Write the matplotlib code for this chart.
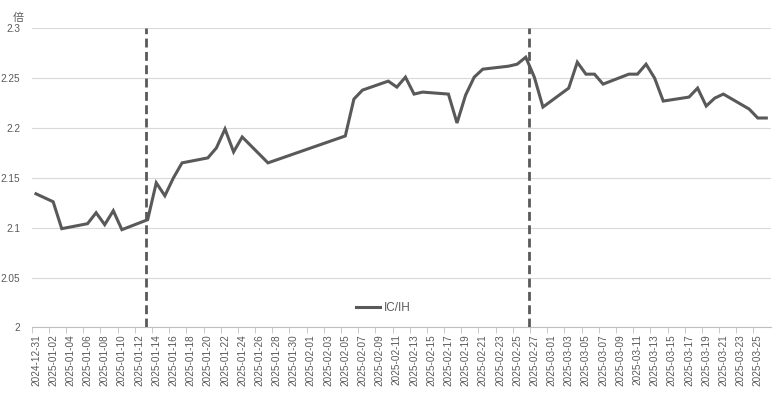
import matplotlib
matplotlib.use('agg')
import matplotlib.pyplot as plt
import pandas as pd

plt.rcParams['font.family'] = ['Liberation Sans', 'Noto Sans CJK SC', 'DejaVu Sans']

# trading days and IC/IH ratio
fechas = ['2024-12-31', '2025-01-02', '2025-01-03', '2025-01-06', '2025-01-07', '2025-01-08',
          '2025-01-09', '2025-01-10', '2025-01-13', '2025-01-14', '2025-01-15', '2025-01-16',
          '2025-01-17', '2025-01-20', '2025-01-21', '2025-01-22', '2025-01-23', '2025-01-24',
          '2025-01-27', '2025-02-05', '2025-02-06', '2025-02-07', '2025-02-10', '2025-02-11',
          '2025-02-12', '2025-02-13', '2025-02-14', '2025-02-17', '2025-02-18', '2025-02-19',
          '2025-02-20', '2025-02-21', '2025-02-24', '2025-02-25', '2025-02-26', '2025-02-27',
          '2025-02-28', '2025-03-03', '2025-03-04', '2025-03-05', '2025-03-06', '2025-03-07',
          '2025-03-10', '2025-03-11', '2025-03-12', '2025-03-13', '2025-03-14', '2025-03-17',
          '2025-03-18', '2025-03-19', '2025-03-20', '2025-03-21', '2025-03-24', '2025-03-25',
          '2025-03-26']
ratio = [2.134, 2.126, 2.099, 2.104, 2.115, 2.103,
         2.117, 2.098, 2.108, 2.145, 2.132, 2.150,
         2.165, 2.170, 2.180, 2.199, 2.176, 2.191,
         2.165, 2.192, 2.229, 2.238, 2.247, 2.241,
         2.251, 2.234, 2.236, 2.234, 2.205, 2.233,
         2.251, 2.259, 2.262, 2.264, 2.271, 2.251,
         2.221, 2.240, 2.266, 2.254, 2.254, 2.244,
         2.254, 2.254, 2.264, 2.250, 2.227, 2.231,
         2.240, 2.222, 2.230, 2.234, 2.219, 2.210,
         2.210]
lineas_marca = ['2025-01-12 18:00', '2025-02-26 08:00']

fechas = pd.to_datetime(fechas)
gris = '#595959'

fig = plt.figure(figsize=(7.8, 3.93), dpi=100)
ax = fig.add_axes([0.0406, 0.167, 0.9474, 0.761])

ax.plot(fechas, ratio, color=gris, linewidth=2.2, label='IC/IH', solid_joinstyle='miter')
for f in lineas_marca:
    ax.axvline(pd.Timestamp(f), color=gris, linewidth=2.0, linestyle=(0, (3.2, 1.6)), zorder=3)

ax.set_ylim(2, 2.3)
ax.set_yticks([2, 2.05, 2.1, 2.15, 2.2, 2.25, 2.3])
ax.set_yticklabels(['2', '2.05', '2.1', '2.15', '2.2', '2.25', '2.3'])
ax.set_xlim(pd.Timestamp('2024-12-31') - pd.Timedelta(hours=12),
            pd.Timestamp('2025-03-26') + pd.Timedelta(hours=12))

ticks = pd.date_range('2024-12-31', '2025-03-25', freq='2D')
ax.set_xticks(ticks)
ax.set_xticklabels([t.strftime('%Y-%m-%d') for t in ticks], rotation=90)
ax.set_xticks(ticks - pd.Timedelta(hours=12), minor=True)
ax.tick_params(axis='x', which='major', length=0, pad=5, labelsize=7.2, colors=gris)
ax.tick_params(axis='x', which='minor', length=4, color='#bfbfbf', direction='out')
ax.tick_params(axis='y', length=0, pad=8, labelsize=7.2, colors=gris)

ax.grid(axis='y', color='#d9d9d9', linewidth=0.8)
ax.set_axisbelow(True)
for lado in ['top', 'right', 'left']:
    ax.spines[lado].set_visible(False)
ax.spines['bottom'].set_color('#bfbfbf')
ax.spines['bottom'].set_linewidth(0.8)

fig.text(0.016, 0.968, '倍', fontsize=8, color=gris, va='top', ha='left')

ax.legend(loc='center', bbox_to_anchor=(0.476, 0.065), frameon=False, fontsize=8.5,
          handlelength=2.0, handletextpad=0.3, labelcolor=gris)

plt.savefig('out.png', dpi=100)
